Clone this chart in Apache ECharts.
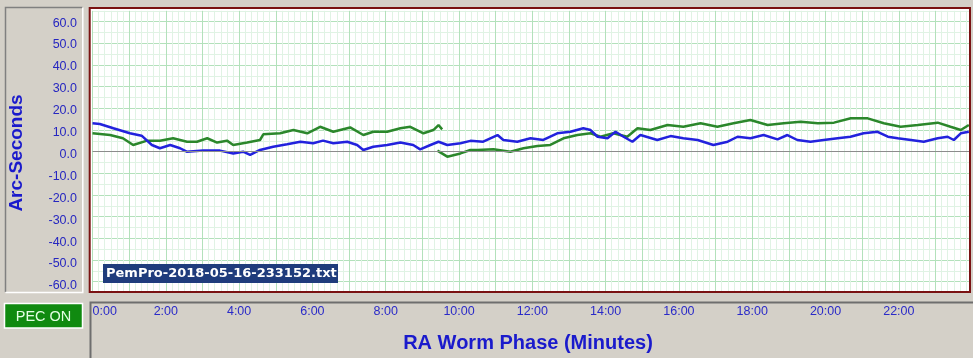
<!DOCTYPE html>
<html><head><meta charset="utf-8">
<script src="https://cdn.jsdelivr.net/npm/echarts@6/dist/echarts.min.js"></script>
<style>html,body{margin:0;padding:0;background:#d4d0c8;}#c{width:973px;height:358px;}</style>
</head><body><div id="c"></div>
<script>
// time in minutes, values in arc-seconds
var blueT = [0,0.20,0.57,1.02,1.34,1.62,1.84,2.12,2.39,2.57,3.02,3.48,3.84,4.11,4.30,4.57,4.93,5.31,5.67,6.02,6.29,6.57,6.95,7.22,7.39,7.66,8.04,8.40,8.75,8.94,9.22,9.44,9.68,10.04,10.31,10.66,11.05,11.21,11.59,11.95,12.30,12.68,13.04,13.39,13.59,13.78,14.05,14.27,14.49,14.73,14.95,15.41,15.77,16.12,16.51,16.94,17.33,17.60,17.95,18.31,18.69,18.96,19.23,19.59,19.95,20.33,20.68,21.04,21.42,21.70,21.97,22.33,22.68,23.06,23.33,23.50,23.69,23.91];
var blueV = [13.1,12.8,10.8,8.5,7.4,3.1,1.6,3.1,1.6,0.0,0.5,0.5,-0.8,0,-1.5,0.8,2.3,3.4,4.6,3.9,5.1,3.9,4.6,3.1,0.8,2.3,3.1,4.2,3.1,1.1,3.1,4.6,3.1,3.9,5.0,4.6,7.7,5.4,4.6,6.2,5.4,8.5,9.2,10.8,10.0,6.9,6.2,9.2,6.9,4.6,7.7,5.4,7.2,6.2,5.4,3.1,4.6,6.9,6.2,7.7,5.7,7.7,5.4,4.6,5.4,6.2,6.9,8.5,9.2,6.9,6.2,5.4,4.6,6.2,6.9,5.4,8.5,9.2];
var greenAT = [0,0.48,0.83,1.11,1.49,1.84,2.20,2.58,2.85,3.13,3.40,3.67,3.84,4.22,4.57,4.66,5.12,5.48,5.86,6.21,6.57,7.03,7.39,7.66,8.04,8.40,8.67,9.03,9.30,9.44,9.54];
var greenAV = [8.5,7.7,6.2,3.1,5.1,5.1,6.2,4.6,4.6,6.2,4.2,5.1,3.1,4.2,5.4,8.0,8.5,10.0,8.5,11.5,9.2,11.2,7.7,9.2,9.2,10.8,11.5,8.5,10.0,12.3,10.3];
var greenBT = [9.41,9.68,10.04,10.31,10.50,10.94,11.40,11.76,12.14,12.49,12.85,13.23,13.59,13.86,14.21,14.59,14.87,15.22,15.69,16.12,16.59,17.05,17.49,17.95,18.42,18.86,19.32,19.79,20.23,20.69,21.15,21.59,22.05,22.52,23.06,23.41,23.69,23.91];
var greenBV = [0.5,-2.3,-0.8,0.8,0.8,1.1,0,1.6,2.6,3.1,6.2,7.7,8.5,6.9,8.5,6.9,10.8,10.0,12.3,11.5,13.1,11.5,13.1,14.6,12.3,13.1,13.8,13.1,13.4,15.4,15.4,13.1,11.5,12.3,13.4,11.5,10.0,12.3];
var yMin = -65, yMax = 65;          // arc-seconds
var xMaxSec = 1436;                  // worm period in seconds
var fileName = 'PemPro-2018-05-16-233152.txt';
var yTitle = 'Arc-Seconds';
var xTitle = 'RA Worm Phase (Minutes)';
var pecText = 'PEC ON';

function pairs(t, v){ return t.map(function(m,i){ return [m*60, v[i]]; }); }

var X0 = 92.5, XR = 969.7, YT = 10.85, YB = 292.55;
var chart = echarts.init(document.getElementById('c'), null, {renderer:'canvas'});
var darkG = '#b3e1bb', lightG = '#e0f3e4';
var option = {
  backgroundColor: '#d4d0c8',
  animation: false,
  grid: [
    {left: X0, top: YT, width: XR - X0, height: YB - YT},
    {left: 80, top: 12.2, width: 1, height: 284.6}
  ],
  xAxis: [
    {type:'value', gridIndex:0, min:0, max:xMaxSec, interval:10,
     axisLine:{show:false}, axisTick:{show:false},
     axisLabel:{show:true, margin:12.5, color:'#2a2ac8', fontFamily:'Liberation Sans', fontSize:12.5,
       showMaxLabel:false, alignMinLabel:'left',
       formatter:function(v){ return (v % 120 === 0) ? (v/60) + ':00' : ''; }},
     splitLine:{show:true, lineStyle:{width:1, color:[darkG, lightG, lightG, lightG, lightG, lightG]}}},
    {type:'value', gridIndex:1, show:false, min:0, max:1}
  ],
  yAxis: [
    {type:'value', gridIndex:0, min:yMin, max:yMax, interval:5,
     axisLine:{show:false}, axisTick:{show:false}, axisLabel:{show:false},
     splitLine:{show:true, lineStyle:{width:1, color:[lightG, darkG]}}},
    {type:'value', gridIndex:1, min:yMin, max:yMax, interval:5,
     axisLine:{show:false}, axisTick:{show:false}, splitLine:{show:false},
     axisLabel:{margin:3, color:'#2626c0', fontFamily:'Liberation Sans', fontSize:12.5,
       formatter:function(v){ return (v % 10 === 0) ? v.toFixed(1) : ''; }}}
  ],
  series: [
    {type:'line', xAxisIndex:0, yAxisIndex:0, data:[], silent:true, z:1,
     markLine:{silent:true, symbol:'none', label:{show:false},
       lineStyle:{color:'#8c8c8c', width:1, type:'solid'}, data:[{yAxis:0}]}},
    {type:'line', name:'green1', data:pairs(greenAT, greenAV), showSymbol:false, z:3,
     lineStyle:{color:'#2b872b', width:2.5}, itemStyle:{color:'#2b872b'}},
    {type:'line', name:'green2', data:pairs(greenBT, greenBV), showSymbol:false, z:3,
     lineStyle:{color:'#2b872b', width:2.5}, itemStyle:{color:'#2b872b'}},
    {type:'line', name:'blue', data:pairs(blueT, blueV), showSymbol:false, z:4,
     lineStyle:{color:'#2222dd', width:2.5}, itemStyle:{color:'#2222dd'}}
  ],
  graphic: [
    {type:'rect', z:-100, shape:{x:89.7, y:8, width:880.3, height:284}, style:{fill:'#ffffff'}},
    {type:'rect', z:100, shape:{x:89.7, y:8, width:880.3, height:284}, style:{fill:'none', stroke:'#7a1212', lineWidth:2}},
    // left panel (sunken)
    {type:'polyline', z:50, shape:{points:[[5.5,292],[5.5,7.5],[82.5,7.5]]}, style:{stroke:'#808080', lineWidth:1.5, fill:'none'}},
    {type:'polyline', z:50, shape:{points:[[5.5,292.5],[82.8,292.5],[82.8,7.5]]}, style:{stroke:'#ffffff', lineWidth:1.5, fill:'none'}},
    // bottom panel
    {type:'polyline', z:50, shape:{points:[[90.5,358],[90.5,302.5],[973,302.5]]}, style:{stroke:'#6e6e6e', lineWidth:2, fill:'none'}},
    // PEC ON button
    {type:'rect', z:50, shape:{x:4.5, y:303.5, width:78, height:24.5}, style:{fill:'#108a10', stroke:'#ffffff', lineWidth:1.5}},
    {type:'text', z:51, style:{x:43.5, y:316.5, text:pecText, align:'center', verticalAlign:'middle', fill:'#e4ffe4', font:'14.5px "Liberation Sans"'}},
    // file name label
    {type:'rect', z:60, shape:{x:103, y:264, width:235, height:19}, style:{fill:'#1f3c7c'}},
    {type:'text', z:61, style:{x:106, y:273.5, text:fileName, align:'left', verticalAlign:'middle', fill:'#ffffff', font:'bold 13px "DejaVu Sans"'}},
    // axis titles
    {type:'text', z:51, x:17, y:153, rotation:Math.PI/2, style:{x:0, y:0, text:yTitle, align:'center', verticalAlign:'middle', fill:'#1a1acc', font:'bold 19px "Liberation Sans"'}},
    {type:'text', z:51, style:{x:528, y:343, text:xTitle, align:'center', verticalAlign:'middle', fill:'#1a1acc', font:'bold 20px "Liberation Sans"'}}
  ]
};
chart.setOption(option);
</script>
</body></html>
